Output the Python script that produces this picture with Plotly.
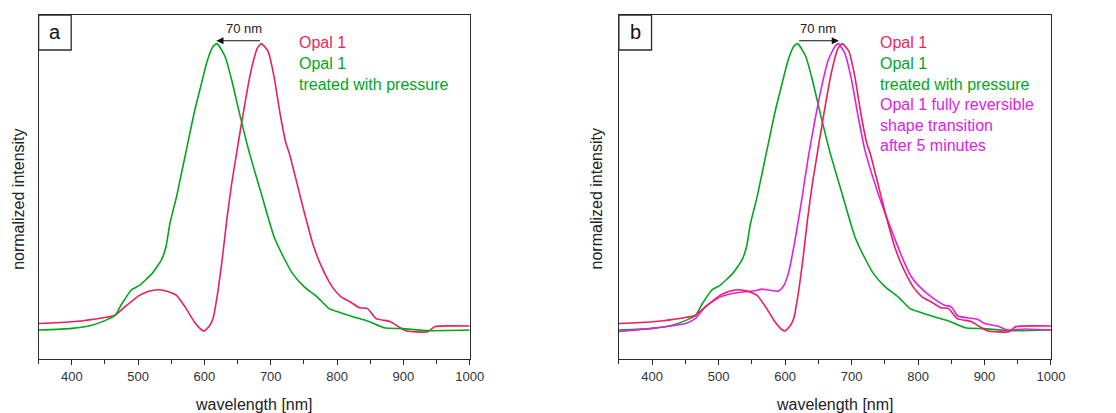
import plotly.graph_objects as go
from plotly.subplots import make_subplots

# ---- data ----
red_wl = [350, 400, 450, 465, 480, 502, 515, 530, 545, 558, 571, 585, 595, 600, 608, 613, 620, 627, 634, 641, 648, 654, 661, 668, 675, 680, 686,
          696, 705, 714, 723, 728, 737, 751, 765, 779, 793, 806, 820, 834, 846, 859, 880, 894, 905, 937, 947, 1000]
red_int = [0.023, 0.029, 0.044, 0.052, 0.081, 0.121, 0.135, 0.141, 0.135, 0.121, 0.08, 0.028, 0.002, -0.003, 0.016, 0.04, 0.13, 0.25, 0.39, 0.51, 0.61, 0.695, 0.79, 0.88, 0.95, 0.985, 1.0,
           0.973, 0.885, 0.757, 0.652, 0.617, 0.536, 0.407, 0.29, 0.209, 0.15, 0.116, 0.098, 0.078, 0.075, 0.04, 0.03, 0.01, -0.003, -0.006, 0.012, 0.014]

green_wl = [350, 400, 430, 450, 465, 475, 490, 502, 521, 535, 542, 548, 558, 567, 576, 585, 595, 604, 613, 619, 631, 641, 654, 668, 687,
            705, 719, 733, 751, 770, 788, 802, 825, 848, 871, 899, 937, 1000]
green_int = [0.0, 0.006, 0.017, 0.033, 0.05, 0.09, 0.14, 0.156, 0.197, 0.244, 0.29, 0.372, 0.466, 0.565, 0.664, 0.763, 0.856, 0.938, 0.99, 1.0, 0.956, 0.874, 0.746, 0.617, 0.466,
             0.326, 0.256, 0.197, 0.15, 0.116, 0.075, 0.063, 0.046, 0.03, 0.008, 0.005, -0.002, 0.0]

mag_wl = [350, 400, 450, 465, 480, 500, 520, 540, 555, 565, 575, 590, 597, 605, 615, 625, 635, 645, 655, 665, 675, 680,
          690, 700, 710, 720, 740, 760, 780, 790, 800, 820, 840, 850, 860, 880, 890, 900, 920, 935, 960, 1000]
mag_int = [-0.005, 0.006, 0.023, 0.04, 0.081, 0.113, 0.128, 0.134, 0.137, 0.143, 0.14, 0.136, 0.151, 0.198, 0.314, 0.454, 0.605, 0.733, 0.85, 0.943, 0.99, 1.0,
           0.966, 0.873, 0.745, 0.629, 0.477, 0.349, 0.233, 0.186, 0.157, 0.116, 0.087, 0.081, 0.049, 0.041, 0.037, 0.023, 0.014, 0.0, 0.004, 0.0]

x_ticks = [400, 500, 600, 700, 800, 900, 1000]

RED = "#ec1f5c"
GREEN = "#00a61e"
MAG = "#e020e6"
AXC = "#2a2a2a"
FONT = "Arial, Liberation Sans, sans-serif"

# page body has an 8px margin; figure is sized/positioned to compensate
W, H, OFF = 1108, 405, 8
def px(x):
    return (x - OFF) / W
def py(y):
    return 1 - (y - OFF) / H

fig = make_subplots(rows=1, cols=2, horizontal_spacing=0.1)

def add(wl, val, color, col):
    fig.add_trace(go.Scatter(x=wl, y=val, mode="lines", line=dict(color=color, width=1.6, shape="spline", smoothing=0.5),
                             showlegend=False, hoverinfo="skip"), row=1, col=col)

add(red_wl, red_int, RED, 1)
add(green_wl, green_int, GREEN, 1)
add(green_wl, green_int, GREEN, 2)
add(mag_wl, mag_int, MAG, 2)
add(red_wl, red_int, RED, 2)

xdoms = [[px(39), px(475.6)], [px(626.7), px(1064.3)]]
ydom = [py(359), py(15)]
for i, (xa, ya) in enumerate([("xaxis", "yaxis"), ("xaxis2", "yaxis2")]):
    fig.layout[xa].update(domain=xdoms[i], range=[350, 1000], tickvals=x_ticks, ticks="outside", ticklen=5, tickwidth=1.2,
                          tickcolor=AXC, showline=True, linecolor=AXC, linewidth=1.3, mirror=True, showgrid=False,
                          zeroline=False, tickfont=dict(family=FONT, size=13, color="#333"),
                          minor=dict(dtick=50, tick0=350, ticks="outside", ticklen=4, tickcolor=AXC, tickwidth=1.2))
    fig.layout[ya].update(domain=ydom, range=[-0.101, 1.100], showticklabels=False, ticks="", showline=True, linecolor=AXC,
                          linewidth=1.3, mirror=True, showgrid=False, zeroline=False)

ann = []
shapes = []
for i, (xr, yr, lab) in enumerate([("x", "y", "a"), ("x2", "y2", "b")]):
    shapes.append(dict(type="rect", xref=f"{xr} domain", yref=f"{yr} domain", x0=0, x1=0.0756, y0=1 - 0.1017, y1=1,
                       line=dict(color=AXC, width=1.3), fillcolor="white"))
    ann.append(dict(text=lab, xref=f"{xr} domain", yref=f"{yr} domain", x=0.0378, y=1 - 0.0508, showarrow=False,
                    font=dict(family=FONT, size=20, color="#111"), xanchor="center", yanchor="middle"))
    ann.append(dict(text="wavelength [nm]", xref=f"{xr} domain", yref="paper", x=0.5, y=py(404), showarrow=False,
                    font=dict(family=FONT, size=16, color="#222"), xanchor="center", yanchor="middle"))
    ann.append(dict(text="normalized intensity", xref="paper", yref="paper", x=px(18 if i == 0 else 604),
                    y=py(199), textangle=-90, showarrow=False,
                    font=dict(family=FONT, size=16, color="#222"), xanchor="center", yanchor="middle"))

# arrows
ann.append(dict(x=618, y=1.01, ax=686, ay=1.01, xref="x", yref="y", axref="x", ayref="y", text="", showarrow=True,
                arrowhead=2, arrowsize=1.3, arrowwidth=1.1, arrowcolor="#111"))
ann.append(dict(text="70 nm", x=659, y=1.053, xref="x", yref="y", showarrow=False,
                font=dict(family=FONT, size=13, color="#222")))
ann.append(dict(x=681, y=1.01, ax=619, ay=1.01, xref="x2", yref="y2", axref="x2", ayref="y2", text="", showarrow=True,
                arrowhead=2, arrowsize=1.3, arrowwidth=1.1, arrowcolor="#111"))
ann.append(dict(text="70 nm", x=649, y=1.053, xref="x2", yref="y2", showarrow=False,
                font=dict(family=FONT, size=13, color="#222")))

# legend texts
leg_a = [("Opal 1", RED), ("Opal 1", GREEN), ("treated with pressure", GREEN)]
leg_b = leg_a + [("Opal 1 fully reversible", MAG), ("shape transition", MAG), ("after 5 minutes", MAG)]
ys = [1.005, 0.931, 0.856, 0.789, 0.715, 0.643]
for j, (t, c) in enumerate(leg_a):
    ann.append(dict(text=t, x=740, y=ys[j], xref="x", yref="y", showarrow=False, xanchor="left", yanchor="middle",
                    font=dict(family=FONT, size=16, color=c)))
for j, (t, c) in enumerate(leg_b):
    ann.append(dict(text=t, x=739.5, y=ys[j], xref="x2", yref="y2", showarrow=False, xanchor="left", yanchor="middle",
                    font=dict(family=FONT, size=16, color=c)))

fig.update_layout(width=W, height=H, margin=dict(l=0, r=0, t=0, b=0), paper_bgcolor="white", plot_bgcolor="white",
                  annotations=ann, shapes=shapes, font=dict(family=FONT))
fig.write_html("out.html")
